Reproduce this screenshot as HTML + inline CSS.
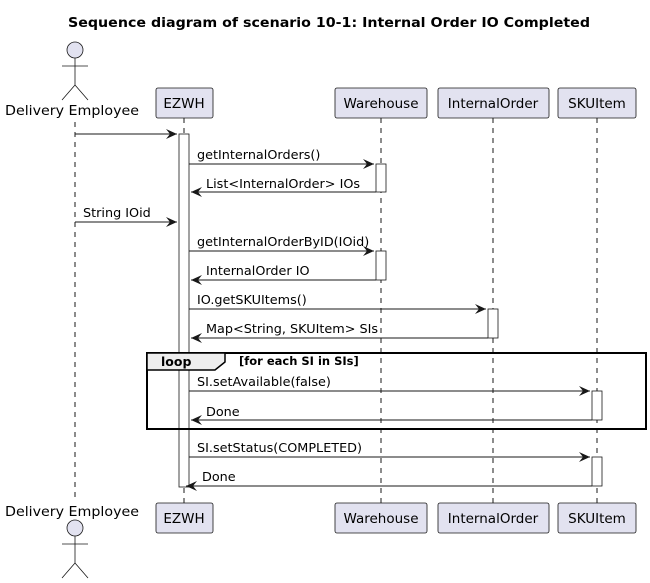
<!DOCTYPE html>
<html><head><meta charset="utf-8"><style>body{margin:0;background:#fff}svg{display:block}</style></head><body>
<svg width="650" height="583" viewBox="0 0 650 583" xmlns="http://www.w3.org/2000/svg" font-family="DejaVu Sans, sans-serif">
<defs><marker id="a" markerWidth="12" markerHeight="10" refX="11" refY="5" orient="auto" markerUnits="userSpaceOnUse"><path d="M0,0 L11,5 L0,10 L4,5 Z" fill="#181818"/></marker></defs>
<text x="329" y="27" font-size="13" font-weight="bold" text-anchor="middle" textLength="522" lengthAdjust="spacingAndGlyphs">Sequence diagram of scenario 10-1: Internal Order IO Completed</text>
<g stroke="#181818" stroke-width="1" stroke-dasharray="5,5" fill="none">
<line x1="75" y1="122" x2="75" y2="500"/><line x1="184" y1="118" x2="184" y2="503"/><line x1="381" y1="118" x2="381" y2="503"/><line x1="493" y1="118" x2="493" y2="503"/><line x1="597" y1="118" x2="597" y2="503"/>
</g>
<g fill="#E2E2F0" stroke="#181818" stroke-width="0.8">
<circle cx="75" cy="50" r="8"/><circle cx="75" cy="528" r="8"/>
<rect x="156" y="88" width="57" height="30" rx="2"/><rect x="335" y="88" width="92" height="30" rx="2"/><rect x="438" y="88" width="111" height="30" rx="2"/><rect x="558" y="88" width="78" height="30" rx="2"/>
<rect x="156" y="503" width="57" height="30" rx="2"/><rect x="335" y="503" width="92" height="30" rx="2"/><rect x="438" y="503" width="111" height="30" rx="2"/><rect x="558" y="503" width="78" height="30" rx="2"/>
</g>
<g stroke="#181818" stroke-width="0.8" fill="none">
<path d="M75,58 V85 M62,66 H88 M75,85 L62,100 M75,85 L88,100"/>
<path d="M75,536 V563 M62,544 H88 M75,563 L62,578 M75,563 L88,578"/>
</g>
<g font-size="13.5" text-anchor="middle" fill="#000">
<text x="72" y="115" textLength="134" lengthAdjust="spacingAndGlyphs">Delivery Employee</text><text x="72" y="516" textLength="134" lengthAdjust="spacingAndGlyphs">Delivery Employee</text>
<text x="184" y="108">EZWH</text><text x="381" y="108">Warehouse</text><text x="493" y="108">InternalOrder</text><text x="597" y="108">SKUItem</text>
<text x="184" y="523">EZWH</text><text x="381" y="523">Warehouse</text><text x="493" y="523">InternalOrder</text><text x="597" y="523">SKUItem</text>
</g>
<g fill="#fff" stroke="#181818" stroke-width="0.8">
<rect x="179" y="134" width="10" height="353"/>
<rect x="376" y="164" width="10" height="28"/><rect x="376" y="251" width="10" height="29"/>
<rect x="488" y="309" width="10" height="29"/>
<rect x="592" y="391" width="10" height="29"/><rect x="592" y="457" width="10" height="29"/>
</g>
<g stroke="#181818" stroke-width="1" marker-end="url(#a)">
<line x1="75" y1="134" x2="177" y2="134"/>
<line x1="189" y1="164" x2="374" y2="164"/>
<line x1="376" y1="192" x2="191" y2="192"/>
<line x1="75" y1="222" x2="177" y2="222"/>
<line x1="189" y1="251" x2="374" y2="251"/>
<line x1="376" y1="280" x2="191" y2="280"/>
<line x1="189" y1="309" x2="486" y2="309"/>
<line x1="488" y1="338" x2="191" y2="338"/>
<line x1="189" y1="391" x2="590" y2="391"/>
<line x1="592" y1="420" x2="191" y2="420"/>
<line x1="189" y1="457" x2="590" y2="457"/>
<line x1="592" y1="486" x2="186" y2="486"/>
</g>
<g font-size="12.8" fill="#000">
<text x="197" y="159">getInternalOrders()</text>
<text x="206" y="188">List&lt;InternalOrder&gt; IOs</text>
<text x="83" y="217">String IOid</text>
<text x="197" y="246">getInternalOrderByID(IOid)</text>
<text x="206" y="275">InternalOrder IO</text>
<text x="197" y="304">IO.getSKUItems()</text>
<text x="206" y="333">Map&lt;String, SKUItem&gt; SIs</text>
<text x="197" y="386">SI.setAvailable(false)</text>
<text x="206" y="416">Done</text>
<text x="197" y="452">SI.setStatus(COMPLETED)</text>
<text x="202" y="481">Done</text>
</g>
<rect x="147" y="353" width="499" height="76" fill="none" stroke="#000" stroke-width="2"/>
<path d="M147,353 H225 V362 L215,370 H147 Z" fill="#EEEEEE" stroke="#000" stroke-width="1.5"/>
<text x="161" y="366" font-size="12.5" font-weight="bold">loop</text>
<text x="239" y="365" font-size="11.5" font-weight="bold">[for each SI in SIs]</text>
</svg>
</body></html>
